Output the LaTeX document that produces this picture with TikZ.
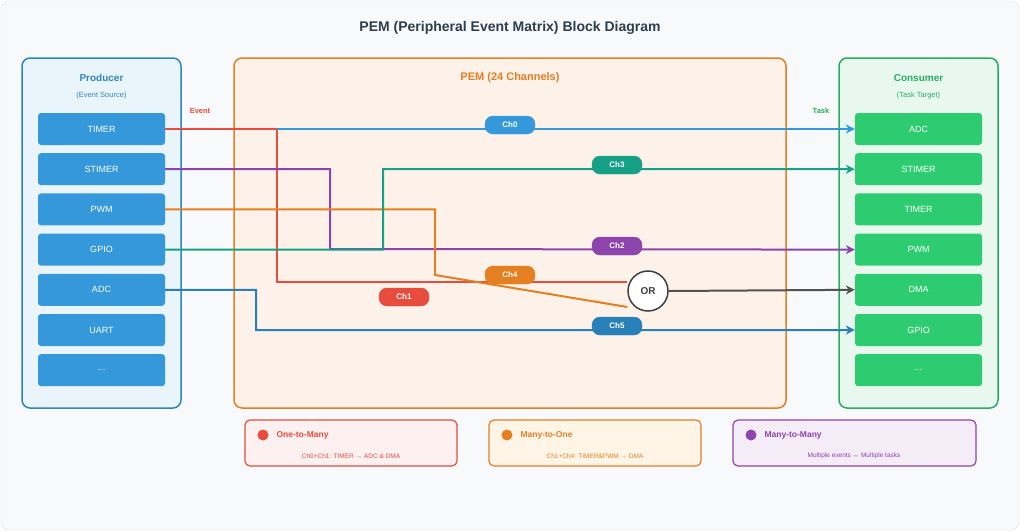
\documentclass[tikz,border=0pt]{standalone}
\usepackage{fontspec}
\setmainfont{Liberation Sans}
\usetikzlibrary{arrows.meta,positioning}
\definecolor{prodblue}{HTML}{3498DB}
\definecolor{prodedge}{HTML}{2E86C1}
\definecolor{consgreen}{HTML}{2ECC71}
\definecolor{consedge}{HTML}{27AE60}
\definecolor{pemorange}{HTML}{E67E22}
\definecolor{chred}{HTML}{E74C3C}
\definecolor{chpurple}{HTML}{8E44AD}
\definecolor{chteal}{HTML}{16A085}
\definecolor{chblue}{HTML}{2980B9}
\definecolor{titlegray}{HTML}{2C3E50}
\newcommand{\moredots}{...}
\tikzset{
  item/.style={rounded corners=3pt,minimum width=127pt,minimum height=32pt,text=white,font=\fontsize{9}{10}\selectfont},
  prod/.style={item,fill=prodblue},
  cons/.style={item,fill=consgreen},
  chan/.style={draw=#1,fill=#1,text=white,rounded corners=8pt,minimum width=50pt,minimum height=18pt,inner sep=1pt,font=\bfseries\fontsize{8}{9}\selectfont},
  wire/.style={draw=#1,line width=2pt},
  legend/.style={draw=#1,line width=1.2pt,rounded corners=5pt}
}
\begin{document}
\begin{tikzpicture}[x=1pt,y=-1pt]
\useasboundingbox (0,0) rectangle (1020,531);
\fill[white] (0,0) rectangle (1020,531);
\draw[draw=gray!25,fill={rgb,255:red,248;green,249;blue,250},rounded corners=8pt] (1,1) rectangle (1019,530);
\node[font=\bfseries\fontsize{14}{16}\selectfont,text=titlegray] (title) at (510,28) {PEM (Peripheral Event Matrix) Block Diagram};
% frames
\draw[prodedge,line width=1.5pt,fill={rgb,255:red,234;green,244;blue,251},rounded corners=8pt] (22,58) rectangle (181,408);
\draw[pemorange,line width=1.5pt,fill={rgb,255:red,253;green,242;blue,233},rounded corners=8pt] (234,58) rectangle (786,408);
\draw[consedge,line width=1.5pt,fill={rgb,255:red,232;green,248;blue,239},rounded corners=8pt] (839,58) rectangle (998,408);
\node[text=prodedge,font=\bfseries\fontsize{10}{12}\selectfont] (ptitle) at (101.5,78) {Producer};
\node[text=prodedge,font=\fontsize{7.5}{9}\selectfont] (psub) at (101.5,96) {(Event Source)};
\node[text=pemorange,font=\bfseries\fontsize{11}{13}\selectfont] (mtitle) at (510,78) {PEM (24 Channels)};
\node[text=consedge,font=\bfseries\fontsize{10}{12}\selectfont] (ctitle) at (918.5,78) {Consumer};
\node[text=consedge,font=\fontsize{7.5}{9}\selectfont] (csub) at (918.5,96) {(Task Target)};
\node[text=chred,font=\bfseries\fontsize{7.5}{9}\selectfont] (event) at (200,111) {Event};
\node[text=consedge,font=\bfseries\fontsize{7.5}{9}\selectfont] (task) at (821,111) {Task};
% producers and consumers
\foreach \n/\t [count=\i from 0] in {p0/TIMER,p1/STIMER,p2/PWM,p3/GPIO,p4/ADC,p5/UART,p6/\moredots}
  \node[prod] (\n) at (101.5,129+40.2*\i) {\t};
\foreach \n/\t [count=\i from 0] in {c0/ADC,c1/STIMER,c2/TIMER,c3/PWM,c4/DMA,c5/GPIO,c6/\moredots}
  \node[cons] (\n) at (918.5,129+40.2*\i) {\t};
% OR gate
\node[circle,draw=darkgray,line width=1.5pt,fill=white,minimum size=40pt,inner sep=0pt,font=\bfseries\fontsize{10}{12}\selectfont,text=darkgray] (or) at (648,291) {OR};
% wires
\coordinate (j0) at (277,129);
\draw[wire=chred] (p0.east) -- (j0) |- ([yshift=9pt]or.west);
\draw[wire=prodblue,-{Stealth[length=9pt,width=9pt]}] (j0) -- (c0.west);
\draw[wire=chpurple,-{Stealth[length=9pt,width=9pt]}] (p1.east) -| (330,249) -- (c3.west);
\draw[wire=pemorange] (p2.east) -| (435,275) -- ([yshift=-16pt]or.west);
\draw[wire=chteal,-{Stealth[length=9pt,width=9pt]}] (p3.east) -| (383,169) -- (c1.west);
\draw[wire=chblue,-{Stealth[length=9pt,width=9pt]}] (p4.east) -| (256,330) -- (c5.west);
\draw[wire=darkgray!90,-{Stealth[length=9pt,width=9pt]}] (or.east) -- (c4.west);
% channel labels
\node[chan=prodblue] (ch0) at (510,125) {Ch0};
\node[chan=chteal] (ch3) at (617,165) {Ch3};
\node[chan=chpurple] (ch2) at (617,246) {Ch2};
\node[chan=pemorange] (ch4) at (510,275) {Ch4};
\node[chan=chred] (ch1) at (404,297) {Ch1};
\node[chan=chblue] (ch5) at (617,326) {Ch5};
% legend
\draw[legend=chred,fill={rgb,255:red,253;green,240;blue,240}] (245,420) rectangle (457,466);
\draw[legend=pemorange,fill={rgb,255:red,254;green,245;blue,231}] (489,420) rectangle (701,466);
\draw[legend=chpurple,fill={rgb,255:red,244;green,236;blue,247}] (733,420) rectangle (976,466);
\fill[chred] (263,435) circle (5.5);
\fill[pemorange] (507,435) circle (5.5);
\fill[chpurple] (751,435) circle (5.5);
\node[anchor=west,text=chred,font=\bfseries\fontsize{8.5}{10}\selectfont] (l0) at (273,435) {One-to-Many};
\node[anchor=west,text=pemorange,font=\bfseries\fontsize{8.5}{10}\selectfont] (l1) at (517,435) {Many-to-One};
\node[anchor=west,text=chpurple,font=\bfseries\fontsize{8.5}{10}\selectfont] (l2) at (761,435) {Many-to-Many};
\node[text=chred,font=\fontsize{6.5}{8}\selectfont] (d0) at (351,456) {Ch0+Ch1: TIMER → ADC \& DMA};
\node[text=pemorange,font=\fontsize{6.5}{8}\selectfont] (d1) at (595,456) {Ch1+Ch4: TIMER\&PWM → DMA};
\node[text=chpurple,font=\fontsize{6.5}{8}\selectfont] (d2) at (854,456) {Multiple events ↔ Multiple tasks};
\end{tikzpicture}
\end{document}
